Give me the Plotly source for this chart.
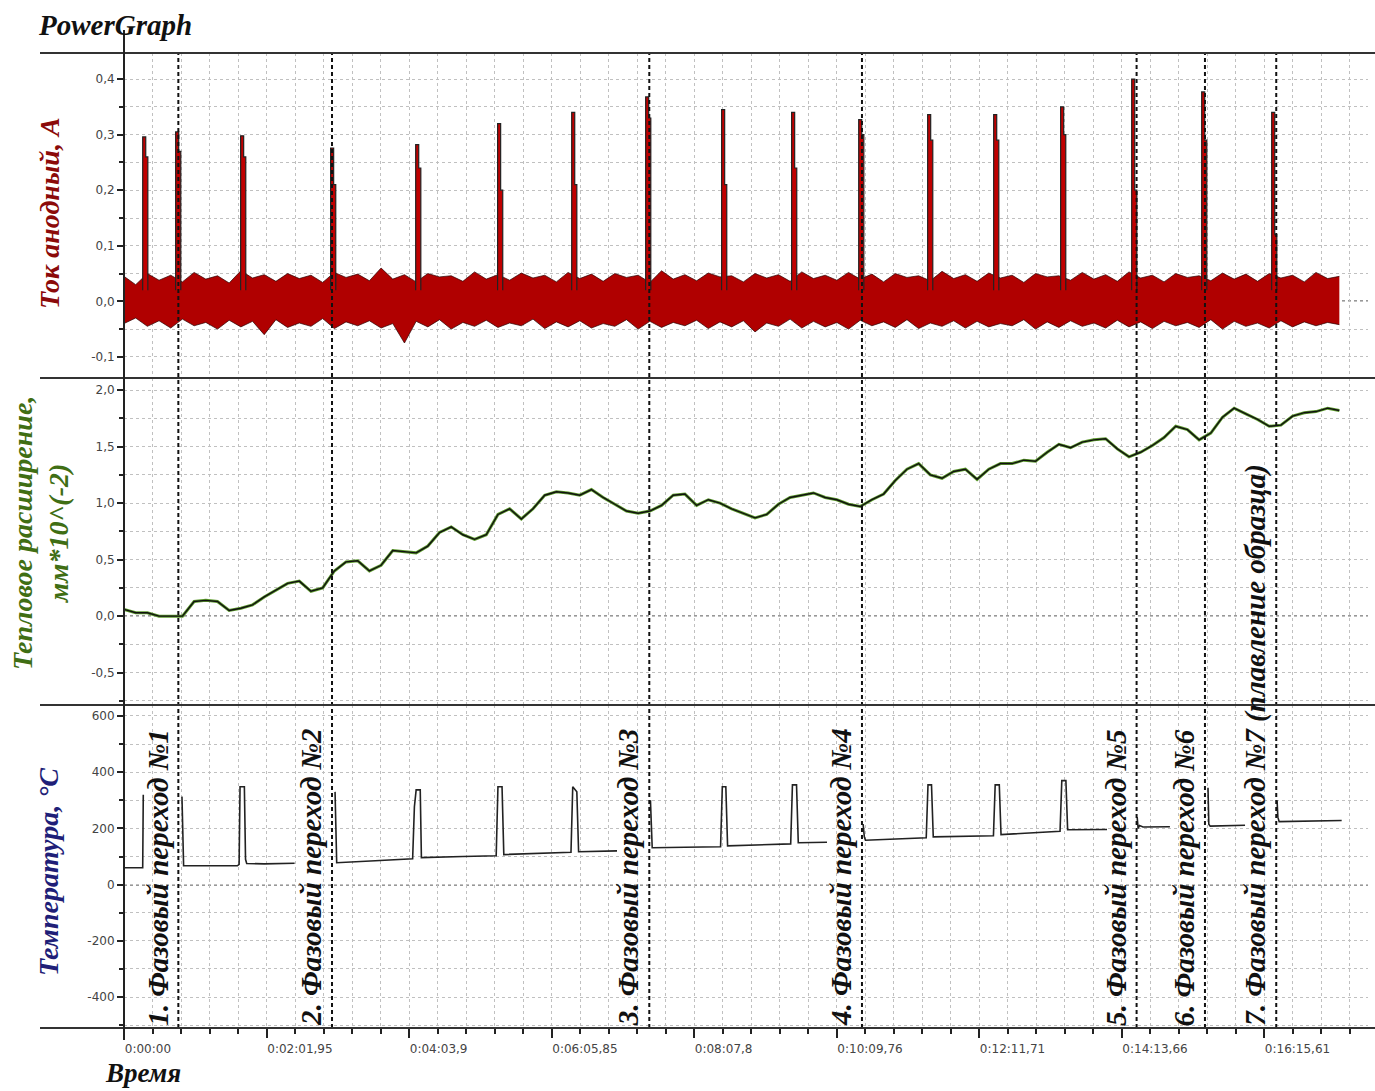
import plotly.graph_objects as go
from plotly.subplots import make_subplots

# ---------------- DATA ----------------
TIME_STEP = 10  # seconds between samples of the envelope / expansion series
tick_vals = [0, 121.95, 243.9, 365.85, 487.8, 609.76, 731.71, 853.66, 975.61]
tick_text = ["0:00:00", "0:02:01,95", "0:04:03,9", "0:06:05,85", "0:08:07,8",
             "0:10:09,76", "0:12:11,71", "0:14:13,66", "0:16:15,61"]

# anodic current: noise band envelope (A)
current_upper = [0.045,0.030,0.050,0.038,0.047,0.035,0.052,0.040,0.046,0.033,0.055,0.042,0.048,0.036,0.050,0.041,0.047,0.034,0.052,0.043,
                 0.049,0.037,0.060,0.040,0.048,0.035,0.050,0.044,0.046,0.036,0.053,0.040,0.048,0.038,0.051,0.042,0.047,0.035,0.052,0.041,
                 0.049,0.036,0.050,0.043,0.047,0.034,0.055,0.040,0.048,0.037,0.051,0.044,0.046,0.035,0.050,0.042,0.048,0.036,0.053,0.041,
                 0.047,0.038,0.052,0.040,0.049,0.035,0.050,0.043,0.046,0.037,0.054,0.041,0.048,0.036,0.051,0.042,0.047,0.034,0.050,0.044,
                 0.046,0.038,0.052,0.040,0.048,0.036,0.053,0.042,0.047,0.035,0.050,0.043,0.046,0.037,0.051,0.040,0.049,0.036,0.050,0.042,
                 0.047,0.035,0.052,0.041,0.045]
current_lower = [-0.040,-0.030,-0.045,-0.035,-0.048,-0.032,-0.044,-0.038,-0.050,-0.034,-0.046,-0.036,-0.060,-0.033,-0.047,-0.039,-0.045,-0.031,-0.049,-0.037,
                 -0.044,-0.035,-0.048,-0.040,-0.075,-0.036,-0.046,-0.033,-0.050,-0.038,-0.045,-0.034,-0.047,-0.039,-0.044,-0.032,-0.049,-0.037,-0.046,-0.035,
                 -0.048,-0.040,-0.045,-0.033,-0.050,-0.036,-0.047,-0.038,-0.044,-0.034,-0.049,-0.037,-0.046,-0.035,-0.055,-0.039,-0.045,-0.032,-0.048,-0.036,
                 -0.046,-0.038,-0.050,-0.034,-0.044,-0.037,-0.047,-0.033,-0.049,-0.039,-0.045,-0.035,-0.048,-0.036,-0.046,-0.040,-0.044,-0.033,-0.050,-0.037,
                 -0.047,-0.035,-0.045,-0.039,-0.048,-0.034,-0.046,-0.037,-0.049,-0.036,-0.044,-0.038,-0.047,-0.033,-0.050,-0.036,-0.045,-0.039,-0.048,-0.035,
                 -0.046,-0.037,-0.044,-0.038,-0.042]

# current spikes: time (s), peak (A), shoulder (A)
spike_t = [18, 46.2, 101.8, 178.8, 251.6, 321.7, 385.1, 448.4, 513.4, 573.3, 630.7, 689.7, 746.2, 803.5, 864.3, 924.2, 984.1]
spike_peak = [0.296, 0.305, 0.298, 0.276, 0.282, 0.32, 0.34, 0.368, 0.345, 0.34, 0.327, 0.336, 0.336, 0.35, 0.40, 0.377, 0.34]
spike_shoulder = [0.26, 0.27, 0.26, 0.21, 0.24, 0.20, 0.21, 0.33, 0.21, 0.24, 0.30, 0.29, 0.29, 0.30, 0.20, 0.29, 0.12]

# thermal expansion (mm*10^-2), sampled every TIME_STEP seconds
expansion = [0.06,0.03,0.03,0.00,0.00,0.00,0.13,0.14,0.13,0.05,
             0.07,0.10,0.17,0.23,0.29,0.31,0.22,0.25,0.40,0.48,
             0.49,0.40,0.45,0.58,0.57,0.56,0.62,0.74,0.79,0.72,
             0.68,0.72,0.90,0.95,0.86,0.95,1.07,1.10,1.09,1.07,
             1.12,1.05,0.99,0.93,0.91,0.93,0.98,1.07,1.08,0.98,
             1.03,1.00,0.95,0.91,0.87,0.90,0.99,1.05,1.07,1.09,
             1.05,1.03,0.99,0.97,1.03,1.08,1.20,1.30,1.35,1.25,
             1.22,1.28,1.30,1.21,1.30,1.35,1.35,1.38,1.37,1.45,
             1.52,1.49,1.54,1.56,1.57,1.48,1.41,1.45,1.51,1.58,
             1.68,1.65,1.56,1.62,1.76,1.84,1.79,1.74,1.68,1.69,
             1.77,1.80,1.81,1.84,1.82]

# temperature (°C) segments, None = gap
temp_t = [0, 16, 16.5, None,
          49.6, 50.2, 51, 97, 98.5, 99.3, 103, 104, 105, 120, 146, None,
          180.6, 181.3, 182, 215, 247, 248.5, 250, 253.5, 254.5, 290, 318.5, 320, 323.5, 325, 360, 382.5, 384, 387.5, 389, 421.9, None,
          450.5, 451.2, 452, 480, 510.5, 512, 515, 516.5, 545, 570.5, 572, 575.5, 577, 601.6, None,
          632.5, 633.5, 634.5, 660, 686.5, 688, 691, 692.5, 720, 744, 745.5, 749, 750.5, 775, 801, 802.5, 806, 807.5, 841.2, None,
          867, 867.8, 869, 872, 895, None,
          927.6, 928.3, 929.5, 945, 959.3, None,
          986.7, 987.4, 988.5, 1010, 1042]
temp_v = [60, 60, 320, None,
          313, 180, 67, 67, 72, 348, 348, 90, 75, 74, 76, None,
          330, 150, 78, 85, 92, 277, 337, 337, 96, 100, 103, 348, 348, 107, 112, 115, 348, 330, 117, 120, None,
          300, 200, 131, 133, 135, 348, 348, 138, 141, 145, 355, 355, 149, 151, None,
          215, 170, 158, 162, 167, 355, 355, 170, 172, 174, 355, 355, 178, 183, 190, 370, 370, 195, 196, None,
          240, 200, 210, 205, 206, None,
          345, 215, 208, 210, 211, None,
          300, 240, 224, 226, 228]

# phase transitions
phase_t = [46.5, 178, 449.5, 631.5, 866.5, 925, 986]
phase_labels = ["1. Фазовый переход №1", "2. Фазовый переход №2", "3. Фазовый переход №3",
                "4. Фазовый переход №4", "5. Фазовый переход №5", "6. Фазовый переход №6",
                "7. Фазовый переход №7 (плавление образца)"]

# ---------------- FIGURE ----------------
W, H = 1375, 1091
L, R, T, B = 124, 7, 53, 63
PW = W - L - R
PH = H - T - B
XMAX = PW / 1.1686

fig = make_subplots(rows=3, cols=1, shared_xaxes=True, vertical_spacing=0)

env_t = [i * TIME_STEP for i in range(len(current_upper))]
exp_t = [i * TIME_STEP for i in range(len(expansion))]

fig.add_trace(go.Scatter(x=env_t, y=current_lower, mode="lines",
                         line=dict(color="#2a0000", width=0.7), hoverinfo="skip"), row=1, col=1)
fig.add_trace(go.Scatter(x=env_t, y=current_upper, mode="lines", fill="tonexty",
                         fillcolor="#b00000", line=dict(color="#2a0000", width=0.7)), row=1, col=1)

sx, sy = [], []
for t, pk, sh in zip(spike_t, spike_peak, spike_shoulder):
    sx += [t - 2.0, t - 2.0, t + 0.6, t + 0.6, t + 2.4, t + 2.4, None]
    sy += [0.02, pk, pk, sh, sh, 0.02, None]
fig.add_trace(go.Scatter(x=sx, y=sy, mode="lines", fill="toself", fillcolor="#c00000",
                         line=dict(color="#222", width=1.2)), row=1, col=1)

fig.add_trace(go.Scatter(x=exp_t, y=expansion, mode="lines",
                         line=dict(color="#5c9a2c", width=3)), row=2, col=1)
fig.add_trace(go.Scatter(x=exp_t, y=expansion, mode="lines",
                         line=dict(color="#111", width=1.4)), row=2, col=1)

fig.add_trace(go.Scatter(x=temp_t, y=temp_v, mode="lines", connectgaps=False,
                         line=dict(color="#222", width=1.6)), row=3, col=1)

h1 = 325 / PH
h2 = 327 / PH
dom3 = [0, 1 - h1 - h2]
dom2 = [1 - h1 - h2, 1 - h1]
dom1 = [1 - h1, 1]

tickfont = dict(family="DejaVu Sans", size=12, color="#444")
grid = dict(showgrid=True, gridcolor="#c0c0c0", griddash="dot", gridwidth=1)

xcommon = dict(range=[0, XMAX], showline=False, zeroline=False, tickvals=tick_vals,
               minor=dict(dtick=24.39, tick0=0, showgrid=True, gridcolor="#c0c0c0", griddash="dot"),
               **grid)
fig.update_xaxes(**xcommon)
fig.update_xaxes(showticklabels=False, ticks="", row=1, col=1)
fig.update_xaxes(showticklabels=False, ticks="", row=2, col=1)
fig.update_xaxes(ticktext=tick_text, ticks="outside", ticklen=9, tickwidth=1.5, tickcolor="#222",
                 ticklabelposition="outside right", ticklabelstandoff=10, tickfont=tickfont,
                 minor=dict(ticks="outside", ticklen=5, tickwidth=1.5, tickcolor="#222"),
                 row=3, col=1)

ycommon = dict(ticks="outside", ticklen=6, tickwidth=1.5, tickcolor="#222", tickfont=tickfont,
               showline=False, zeroline=False, **grid)
fig.update_yaxes(**ycommon)
fig.update_yaxes(domain=dom1, range=[-0.138, 0.447],
                 tickvals=[0.4, 0.3, 0.2, 0.1, 0.0, -0.1],
                 ticktext=["0,4", "0,3", "0,2", "0,1", "0,0", "-0,1"],
                 minor=dict(dtick=0.05, tick0=0, ticks="outside", ticklen=4, tickcolor="#222",
                            showgrid=True, gridcolor="#c0c0c0", griddash="dot"), row=1, col=1)
fig.update_yaxes(domain=dom2, range=[-0.786, 2.107],
                 tickvals=[2.0, 1.5, 1.0, 0.5, 0.0, -0.5],
                 ticktext=["2,0", "1,5", "1,0", "0,5", "0,0", "-0,5"],
                 minor=dict(dtick=0.25, tick0=0, ticks="outside", ticklen=4, tickcolor="#222",
                            showgrid=True, gridcolor="#c0c0c0", griddash="dot"), row=2, col=1)
fig.update_yaxes(domain=dom3, range=[-510, 639],
                 tickvals=[600, 400, 200, 0, -200, -400],
                 ticktext=["600", "400", "200", "0", "-200", "-400"],
                 minor=dict(dtick=100, tick0=0, ticks="outside", ticklen=4, tickcolor="#222",
                            showgrid=True, gridcolor="#c0c0c0", griddash="dot"), row=3, col=1)

shapes = []
# zero lines (dotted)
for yr in ["y", "y2", "y3"]:
    shapes.append(dict(type="line", xref="x", yref=yr, x0=0, x1=XMAX, y0=0, y1=0,
                       line=dict(color="#333", width=1.5, dash="dot"), layer="below"))
# phase dashed lines
for t in phase_t:
    shapes.append(dict(type="line", xref="x3", yref="paper", x0=t, x1=t, y0=0, y1=1,
                       line=dict(color="#111", width=2, dash="4px,3px")))
# separators
xl = (40 - L) / PW
xr = (W - L) / PW
for yp in [1, dom2[1], dom3[1], 0]:
    shapes.append(dict(type="line", xref="paper", yref="paper", x0=xl, x1=xr, y0=yp, y1=yp,
                       line=dict(color="#333", width=2)))
# left axis line
shapes.append(dict(type="line", xref="paper", yref="paper", x0=0, x1=0,
                   y0=-(1040 - 1028) / PH, y1=1 + (53 - 30) / PH,
                   line=dict(color="#222", width=2)))

serif = "Liberation Serif"
ann = []
for t, lab in zip(phase_t, phase_labels):
    ann.append(dict(x=t, xref="x3", y=0, yref="paper", text="<b><i>%s</i></b>" % lab,
                    textangle=-90, xanchor="right", yanchor="bottom", xshift=-3, yshift=0,
                    showarrow=False, font=dict(family=serif, size=29, color="#111")))

def px(xp):
    return (xp - L) / PW

def py(yp):
    return 1 - (yp - T) / PH

ttl = dict(textangle=-90, showarrow=False, xanchor="center", yanchor="middle",
           xref="paper", yref="paper")
ann.append(dict(x=px(50), y=py(213), text="<b><i>Ток анодный, А</i></b>",
                font=dict(family=serif, size=28, color="#8b0a0a"), **ttl))
ann.append(dict(x=px(40), y=py(533), text="<b><i>Тепловое расширение,<br>мм*10^(-2)</i></b>",
                font=dict(family=serif, size=28, color="#3f6e14"), **ttl))
ann.append(dict(x=px(48), y=py(872), text="<b><i>Температура, °С</i></b>",
                font=dict(family=serif, size=28, color="#1f1f78"), **ttl))
ann.append(dict(x=px(36), y=py(25), xref="paper", yref="paper", text="<b><i>PowerGraph</i></b>",
                xanchor="left", yanchor="middle", showarrow=False,
                font=dict(family=serif, size=29, color="#111")))
ann.append(dict(x=px(103), y=py(1073), xref="paper", yref="paper", text="<b><i>Время</i></b>",
                xanchor="left", yanchor="middle", showarrow=False,
                font=dict(family=serif, size=27, color="#111")))

fig.update_layout(width=W, height=H, margin=dict(l=L, r=R, t=T, b=B),
                  paper_bgcolor="white", plot_bgcolor="white", showlegend=False,
                  shapes=shapes, annotations=ann, separators=", ")

fig.write_html("out.html")
